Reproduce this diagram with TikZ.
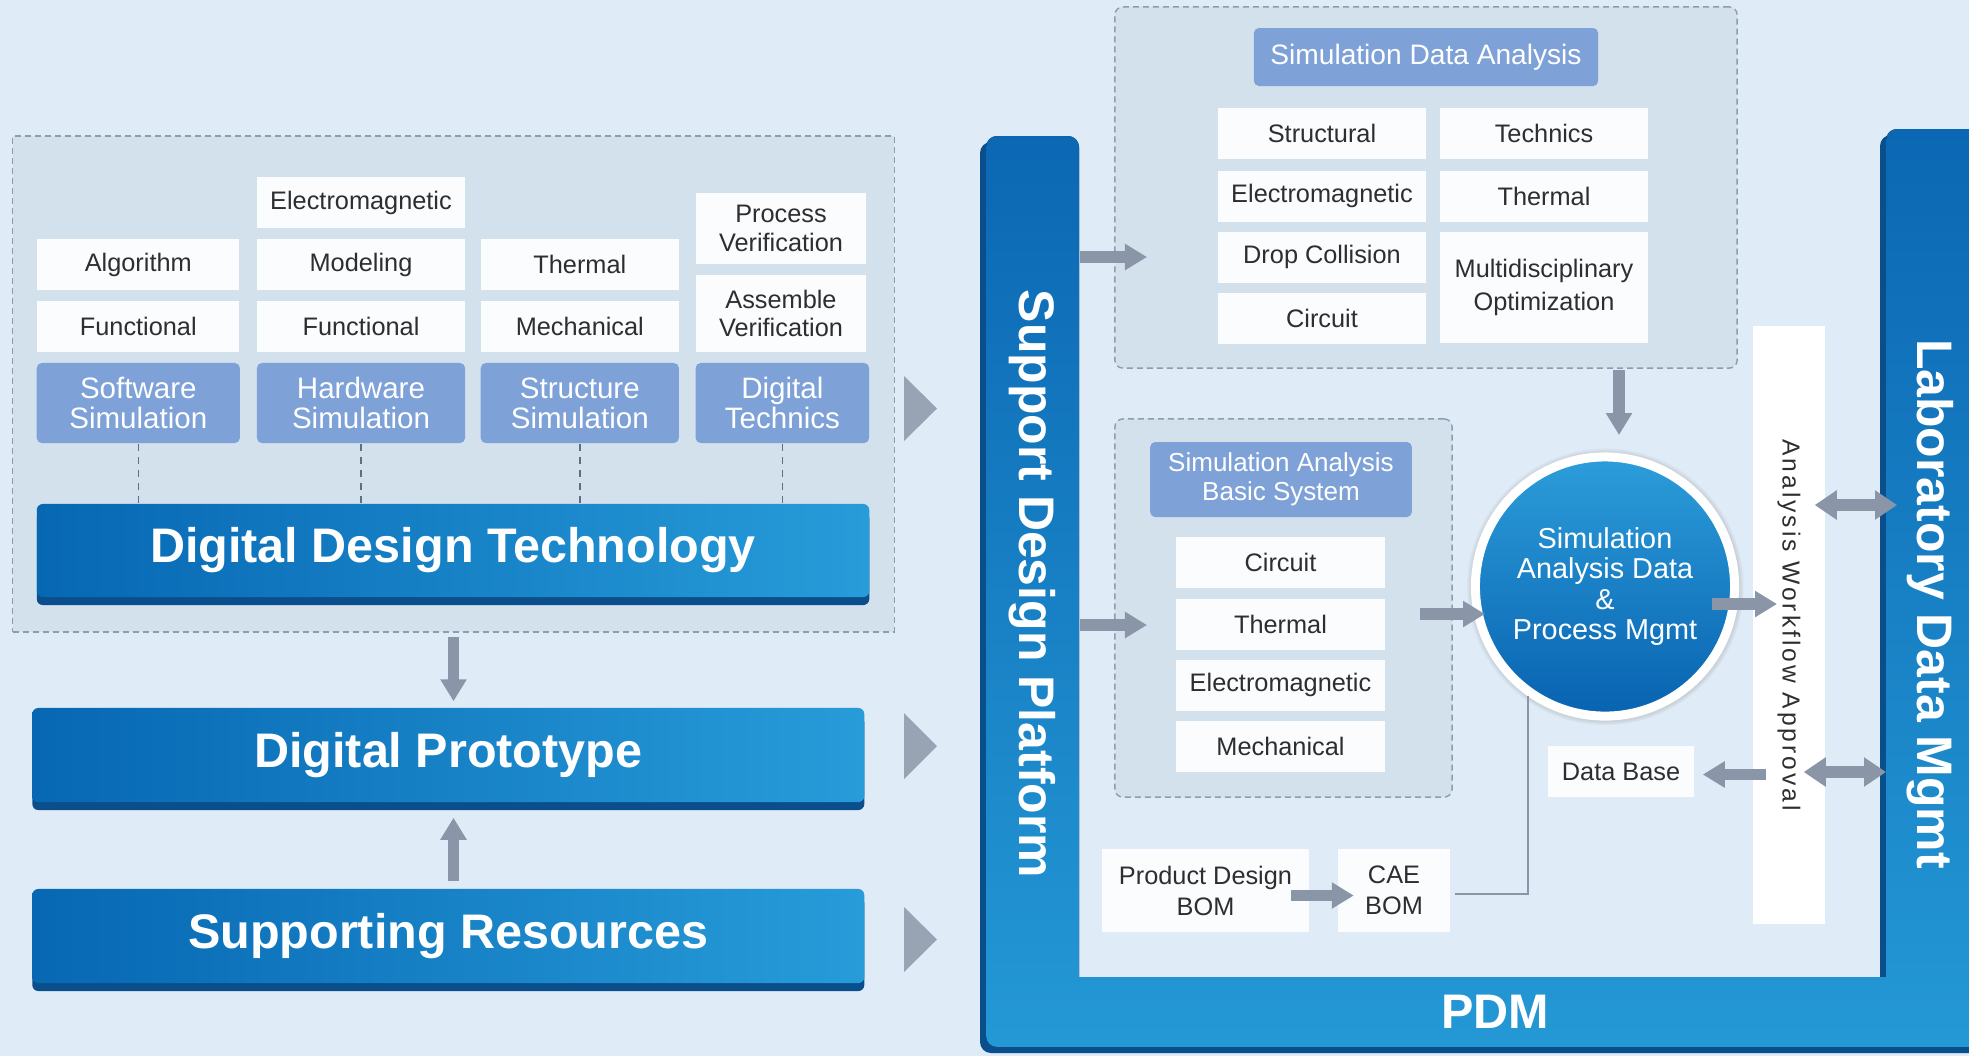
\documentclass[tikz,border=0pt]{standalone}
\usepackage{fontspec}
\setmainfont{Liberation Sans}
\usetikzlibrary{arrows.meta,calc,shadows}
\definecolor{Paper}{HTML}{DFEBF6}
\definecolor{Pane}{HTML}{D3E1ED}
\definecolor{Dash}{HTML}{8D9CB1}
\definecolor{Head}{HTML}{7EA1D8}
\definecolor{Cell}{HTML}{FAFCFE}
\definecolor{Ink}{HTML}{2E2E2E}
\definecolor{Steel}{HTML}{8A96A8}
\definecolor{Chev}{HTML}{98A3B4}
\definecolor{BarL}{HTML}{0767B3}
\definecolor{BarR}{HTML}{279CD9}
\definecolor{BarDark}{HTML}{0B4E8C}
\definecolor{FrameTop}{HTML}{0B67B3}
\definecolor{FrameBot}{HTML}{2498D5}
\definecolor{HubTop}{HTML}{2C9DDA}
\definecolor{HubBot}{HTML}{0862B0}
\definecolor{Link}{HTML}{5D6E85}

\tikzset{
  cell/.style={fill=Cell, text=Ink, font=\fontsize{7.2}{8.2}\selectfont, align=center, inner sep=0pt, minimum height=0.51cm},
  head/.style={fill=Head, rounded corners=0.05cm, text=white, font=\fontsize{8.4}{8.6}\selectfont, align=center, inner sep=0pt, minimum height=0.8cm},
  pane/.style={fill=Pane, draw=Dash, line width=0.4pt, dash pattern=on 0.06cm off 0.04cm, inner sep=0pt},
  bar/.style={left color=BarL, right color=BarR, rounded corners=0.06cm, text=white, font=\bfseries\fontsize{13.8}{15}\selectfont, inner sep=0pt, general shadow={fill=BarDark, shadow yshift=-0.08cm}},
  title/.style={text=white, font=\bfseries\fontsize{14.2}{15}\selectfont, inner sep=0pt},
  blockarrow/.style={Steel, line width=0.115cm, -{Triangle[length=0.22cm, width=0.25cm]}},
  twoway/.style={Steel, line width=0.115cm, {Triangle[length=0.22cm, width=0.28cm]}-{Triangle[length=0.22cm, width=0.28cm]}},
  link/.style={Link, line width=0.45pt, dash pattern=on 0.07cm off 0.06cm},
  wire/.style={Steel, line width=0.02cm},
  chevron/.style={fill=Chev}
}

\begin{document}
\begin{tikzpicture}[x=0.01cm,y=-0.01cm]
    \useasboundingbox (0,0) rectangle (1969,1056);
    \fill[Paper] (0,0) rectangle (1969,1056);

    % left block
    \node[pane, minimum width=8.81cm, minimum height=4.96cm] (ddtpane) at (453.5,384) {};

    \node[cell, minimum width=2.015cm] (alg) at (138.3,264.5) {Algorithm};
    \node[cell, minimum width=2.015cm] (swfun) at (138.3,326.5) {Functional};
    \node[head, minimum width=2.03cm] (swsim) at (138.3,403) {Software\\Simulation};

    \node[cell, minimum width=2.08cm] (hwem) at (361,202.5) {Electromagnetic};
    \node[cell, minimum width=2.08cm] (hwmod) at (361,264.5) {Modeling};
    \node[cell, minimum width=2.08cm] (hwfun) at (361,326.5) {Functional};
    \node[head, minimum width=2.08cm] (hwsim) at (361,403) {Hardware\\Simulation};

    \node[cell, minimum width=1.975cm] (stth) at (579.8,264.5) {Thermal};
    \node[cell, minimum width=1.975cm] (stmech) at (579.8,326.5) {Mechanical};
    \node[head, minimum width=1.98cm] (stsim) at (579.8,403) {Structure\\Simulation};

    \node[cell, minimum width=1.70cm, minimum height=0.713cm] (dtproc) at (781,228.4) {Process\\Verification};
    \node[cell, minimum width=1.70cm, minimum height=0.767cm] (dtasm) at (781,313.4) {Assemble\\Verification};
    \node[head, minimum width=1.733cm] (dttech) at (782.4,403) {Digital\\Technics};

    \node[bar, minimum width=8.32cm, minimum height=0.93cm] (ddt) at (453,550.5) {Digital Design Technology};
    \node[bar, minimum width=8.315cm, minimum height=0.94cm] (dp) at (448.3,755) {Digital Prototype};
    \node[bar, minimum width=8.315cm, minimum height=0.94cm] (sr) at (448.3,936) {Supporting Resources};

    \foreach \c in {swsim,hwsim,stsim,dttech}
      \draw[link] (\c.south) -- (\c.south |- ddt.north);

    \draw[blockarrow] ($(ddtpane.south)+(0,4)$) -- ($(ddtpane.south |- dp.north)+(0,-6)$);
    \draw[blockarrow] ($(ddtpane.south |- sr.north)+(0,-7)$) -- ($(ddtpane.south |- dp.south)+(0,15)$);

    \fill[chevron] (904,376) -- (937,408.5) -- (904,441) -- cycle;
    \fill[chevron] (904,713) -- (937,746) -- (904,779) -- cycle;
    \fill[chevron] (904,907) -- (937,939.5) -- (904,972) -- cycle;

    % platform frame
    \fill[top color=FrameTop, bottom color=FrameBot, rounded corners=0.11cm,
          general shadow={fill=BarDark, shadow xshift=-0.06cm, shadow yshift=-0.06cm}]
      (986,136) rectangle (1079,1047) (986,977) rectangle (1995,1047) (1886,129) rectangle (1995,1047);
    \node[title, rotate=-90] (sdp) at (1032,584) {Support Design Platform};
    \node[title, rotate=-90] (ldm) at (1930,604) {Laboratory Data Mgmt};
    \node[title, font=\bfseries\fontsize{13.8}{15}\selectfont] (pdm) at (1495,1012) {PDM};
    \coordinate (sdpedge) at (1080,0);

    % simulation data analysis
    \node[pane, rounded corners=0.08cm, minimum width=6.22cm, minimum height=3.61cm] (sdapane) at (1426,187.5) {};
    \node[head, minimum width=3.44cm, minimum height=0.58cm, font=\fontsize{8}{8.6}\selectfont] (sdahead) at (1426,57) {Simulation Data Analysis};
    \node[cell, minimum width=2.08cm] (sdstr) at (1322,133.5) {Structural};
    \node[cell, minimum width=2.08cm] (sdtec) at (1544,133.5) {Technics};
    \node[cell, minimum width=2.08cm] (sdem) at (1322,196) {Electromagnetic};
    \node[cell, minimum width=2.08cm] (sdth) at (1544,196) {Thermal};
    \node[cell, minimum width=2.08cm] (sddrop) at (1322,257.3) {Drop Collision};
    \node[cell, minimum width=2.08cm] (sdcir) at (1322,318) {Circuit};
    \node[cell, minimum width=2.08cm, minimum height=1.11cm, font=\fontsize{7.2}{9.4}\selectfont] (sdmdo) at (1544,287.5) {Multidisciplinary\\Optimization};

    % basic system
    \node[pane, rounded corners=0.08cm, minimum width=3.37cm, minimum height=3.78cm] (sabspane) at (1283.5,608) {};
    \node[head, minimum width=2.615cm, minimum height=0.75cm, font=\fontsize{7.4}{8.3}\selectfont] (sabshead) at (1281,479.5) {Simulation Analysis\\Basic System};
    \node[cell, minimum width=2.09cm] (sacir) at (1280.5,562) {Circuit};
    \node[cell, minimum width=2.09cm] (sath) at (1280.5,624) {Thermal};
    \node[cell, minimum width=2.09cm] (saem) at (1280.5,685) {Electromagnetic};
    \node[cell, minimum width=2.09cm] (samech) at (1280.5,746) {Mechanical};

    % hub and workflow
    \node[circle, minimum size=2.59cm, draw=white, line width=0.09cm, top color=HubTop, bottom color=HubBot,
          text=white, font=\fontsize{8.2}{8.55}\selectfont, align=center, inner sep=0pt,
          circular drop shadow={shadow xshift=0pt, shadow yshift=0pt, shadow scale=1.07}] (hub) at (1605,586.5)
          {Simulation\\Analysis Data\\\&\\Process Mgmt};
    \node[fill=white, minimum width=5.98cm, minimum height=0.72cm, rotate=-90, inner sep=0pt, text=Ink,
          font=\fontsize{7}{8}\selectfont\addfontfeature{LetterSpace=12}] (approval) at (1789,625) {Analysis Workflow Approval};
    \node[cell, minimum width=1.46cm] (db) at (1621,771.5) {Data Base};
    \node[cell, minimum width=2.07cm, minimum height=0.83cm, font=\fontsize{7.2}{8.8}\selectfont] (pdbom) at (1205.5,890.5) {Product Design\\BOM};
    \node[cell, minimum width=1.11cm, minimum height=0.83cm, font=\fontsize{7.2}{8.8}\selectfont] (caebom) at (1394,890.5) {CAE\\BOM};

    \coordinate (sdaIn) at (1147,257);
    \coordinate (sabsIn) at (1147,625);
    \coordinate (hubIn) at (1485,614);
    \coordinate (hubTop) at (1619,435);
    \coordinate (hubOut) at (1777,604);
    \coordinate (ldmA) at (1897,505);
    \coordinate (ldmB) at (1886,772);

    \draw[blockarrow] (sdpedge |- sdaIn) -- (sdaIn);
    \draw[blockarrow] (sdpedge |- sabsIn) -- (sabsIn);
    \draw[blockarrow] ($(sabspane.east |- hubIn)+(-33,0)$) -- (hubIn);
    \draw[blockarrow] ($(sdapane.south -| hubTop)+(0,1)$) -- (hubTop);
    \draw[blockarrow] ($(hub.center |- hubOut)+(107,0)$) -- (hubOut);
    \draw[twoway] ($(approval.north |- ldmA)+(-11,0)$) -- (ldmA);
    \draw[twoway] ($(approval.north |- ldmB)+(-22,0)$) -- (ldmB);
    \draw[blockarrow] ($(approval.south |- db)+(14,3)$) -- ($(db.east)+(8,3)$);
    \draw[blockarrow] ($(pdbom.east)+(-19,5)$) -- ($(caebom.west)+(16,5)$);
    \draw[wire] ($(caebom.east)+(5,3)$) -| (hub.-125);
\end{tikzpicture}
\end{document}
